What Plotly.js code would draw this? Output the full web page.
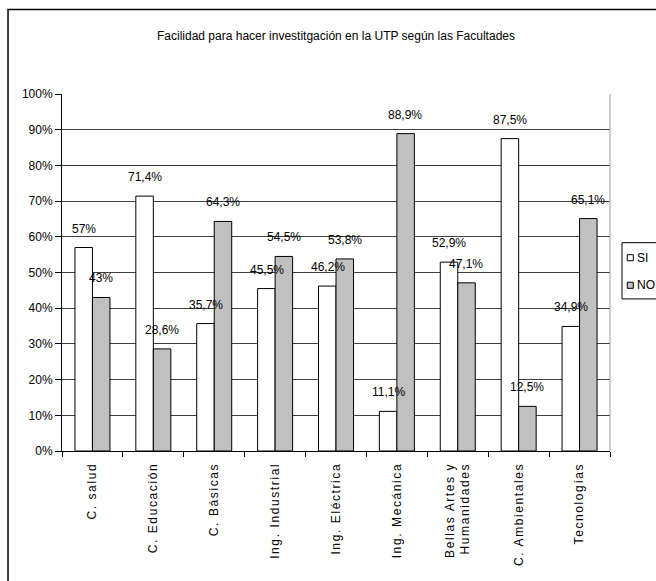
<!DOCTYPE html>
<html>
<head>
<meta charset="utf-8">
<script src="https://cdn.plot.ly/plotly-3.0.1.min.js"></script>
<style>
html, body { margin: 0; padding: 0; background: #fff; }
#chart { width: 656px; height: 581px; }
.xtick text { letter-spacing: 1.6px; }
</style>
</head>
<body>
<div id="chart"></div>
<script>
// Data
const categories = ["C. salud", "C. Educación", "C. Básicas", "Ing. Industrial", "Ing. Eléctrica",
  "Ing. Mecánica", "Bellas Artes y<br>Humanidades", "C. Ambientales", "Tecnologías"];
const seriesNames = ["SI", "NO"];
const siValues = [57, 71.4, 35.7, 45.5, 46.2, 11.1, 52.9, 87.5, 34.9];
const noValues = [43, 28.6, 64.3, 54.5, 53.8, 88.9, 47.1, 12.5, 65.1];
const siLabels = ["57%", "71,4%", "35,7%", "45,5%", "46,2%", "11,1%", "52,9%", "87,5%", "34,9%"];
const noLabels = ["43%", "28,6%", "64,3%", "54,5%", "53,8%", "88,9%", "47,1%", "12,5%", "65,1%"];
const yTickVals = [0, 10, 20, 30, 40, 50, 60, 70, 80, 90, 100];
const yTickText = ["0%", "10%", "20%", "30%", "40%", "50%", "60%", "70%", "80%", "90%", "100%"];

const FONT = "Liberation Sans, Arial, sans-serif";
const seriesColors = ["#ffffff", "#c0c0c0"];

const traces = [
  {
    type: "bar", name: seriesNames[0], x: categories, y: siValues,
    marker: { color: seriesColors[0], line: { color: "#000000", width: 1 } },
    hoverinfo: "skip"
  },
  {
    type: "bar", name: seriesNames[1], x: categories, y: noValues,
    marker: { color: seriesColors[1], line: { color: "#000000", width: 1 } },
    hoverinfo: "skip"
  }
];

const annotations = [];
categories.forEach((c, i) => {
  annotations.push({ x: c, y: siValues[i], xref: "x", yref: "y", text: siLabels[i],
    showarrow: false, xshift: -8.5, yshift: 19, font: { family: FONT, size: 12, color: "#000" } });
  annotations.push({ x: c, y: noValues[i], xref: "x", yref: "y", text: noLabels[i],
    showarrow: false, xshift: 8.5, yshift: 19, font: { family: FONT, size: 12, color: "#000" } });
});

// custom legend (the reference legend is narrower than Plotly's own)
const legendShapes = [
  { type: "rect", xref: "paper", yref: "paper", x0: 1.0219, x1: 1.2, y0: 0.426, y1: 0.5835,
    line: { color: "#000", width: 1 }, fillcolor: "#ffffff" }
];
const legendRows = [0.5414, 0.4642];
seriesNames.forEach((n, k) => {
  legendShapes.push({ type: "rect", xref: "paper", yref: "paper",
    x0: 1.0315, x1: 1.0425, y0: legendRows[k] - 0.0085, y1: legendRows[k] + 0.0085,
    line: { color: "#000", width: 1 }, fillcolor: seriesColors[k] });
  annotations.push({ xref: "paper", yref: "paper", x: 1.046, y: legendRows[k],
    xanchor: "left", yanchor: "middle", text: n, showarrow: false,
    font: { family: FONT, size: 12, color: "#000" } });
});

const layout = {
  width: 656, height: 581,
  margin: { l: 62, r: 46, t: 94, b: 130, pad: 0, autoexpand: false },
  paper_bgcolor: "#ffffff", plot_bgcolor: "#ffffff",
  font: { family: FONT, size: 12, color: "#000" },
  title: {
    text: "Facilidad para hacer investitgación en la UTP según las Facultades",
    font: { family: FONT, size: 12, color: "#000" },
    x: 0.5, xref: "paper", y: 0.939, yref: "container", yanchor: "middle"
  },
  barmode: "group", bargap: 0.425, bargroupgap: 0,
  showlegend: false,
  xaxis: {
    type: "category",
    tickangle: -90,
    tickson: "boundaries",
    ticks: "outside", ticklen: 5, tickcolor: "#000",
    showline: true, linecolor: "#000", linewidth: 1,
    showgrid: false,
    ticklabelstandoff: 6,
    tickfont: { family: FONT, size: 12, color: "#000" }
  },
  yaxis: {
    range: [0, 100],
    tickvals: yTickVals, ticktext: yTickText,
    ticks: "outside", ticklen: 6, tickcolor: "#000",
    showline: true, linecolor: "#000", linewidth: 1,
    showgrid: true, gridcolor: "#404040", gridwidth: 1,
    zeroline: false,
    tickfont: { family: FONT, size: 12, color: "#000" }
  },
  annotations: annotations,
  shapes: [
    { type: "line", xref: "paper", yref: "paper", x0: 1, x1: 1, y0: 0, y1: 1,
      line: { color: "#a0a0a0", width: 1 } },
    ...legendShapes,
    { type: "rect", xref: "paper", yref: "paper", x0: -0.0985, x1: 1.3, y0: -0.7, y1: 1.237,
      line: { color: "#000000", width: 1.5 }, fillcolor: "rgba(0,0,0,0)", layer: "above" }
  ]
};

Plotly.newPlot("chart", traces, layout, { staticPlot: true, displayModeBar: false });
</script>
</body>
</html>
